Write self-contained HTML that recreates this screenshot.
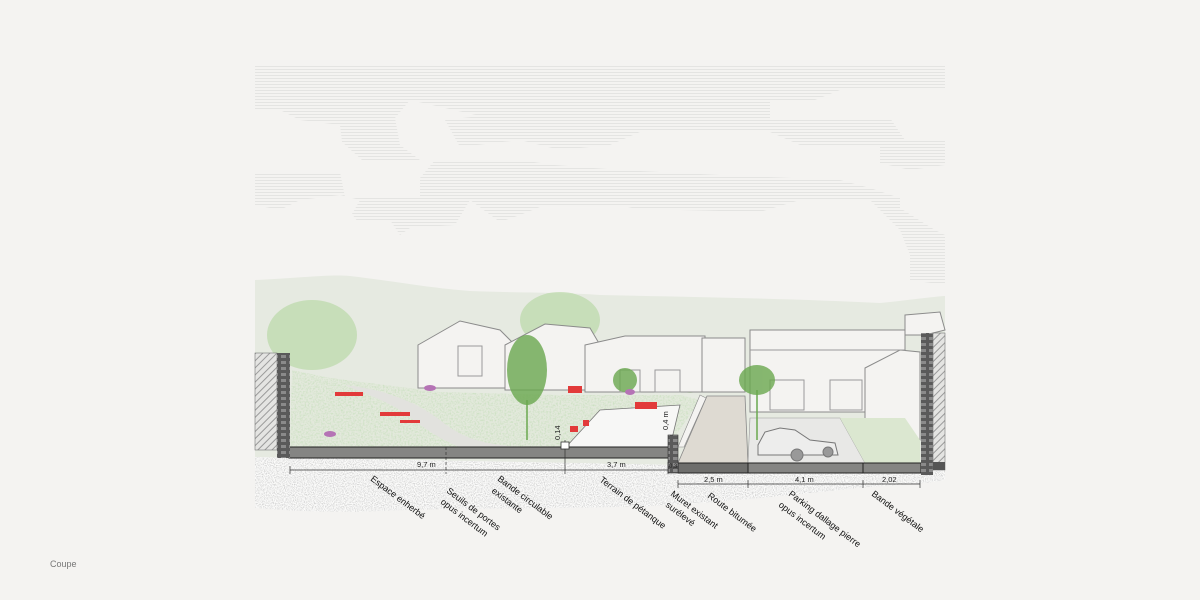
<!DOCTYPE html>
<html><head><meta charset="utf-8"><style>
html,body{margin:0;padding:0;background:#f4f3f1;}
svg{display:block;}
text{font-family:"Liberation Sans",sans-serif;}
</style></head><body>
<svg width="1200" height="600" viewBox="0 0 1200 600" xmlns="http://www.w3.org/2000/svg">
<defs>
<pattern id="sky" width="4" height="3" patternUnits="userSpaceOnUse"><rect width="4" height="1" fill="#e4e4e2"/></pattern>
<pattern id="hatch" width="5" height="5" patternUnits="userSpaceOnUse" patternTransform="rotate(45)"><rect width="5" height="5" fill="#e4e4e2"/><rect width="1" height="5" fill="#9a9a9a"/></pattern>
<pattern id="stone" width="8" height="6" patternUnits="userSpaceOnUse"><rect width="8" height="6" fill="#5a5a5a"/><rect x="1" y="1" width="5" height="3" fill="#8a8a8a"/></pattern>
<filter id="noise"><feTurbulence type="fractalNoise" baseFrequency="0.9" numOctaves="1" seed="3"/><feColorMatrix values="0 0 0 0 0.55 0 0 0 0 0.55 0 0 0 0 0.55 0 0 0 -2.2 1.3"/><feComposite in2="SourceGraphic" operator="in"/></filter>
<filter id="grass"><feTurbulence type="fractalNoise" baseFrequency="0.6" numOctaves="2" seed="7"/><feColorMatrix values="0 0 0 0 0.45 0 0 0 0 0.68 0 0 0 0 0.38 0 0 0 -2 1.2"/><feComposite in2="SourceGraphic" operator="in"/></filter>
</defs>

<g fill="url(#sky)">
<polygon points="255,66 945,66 945,88 845,88 815,100 770,100 770,118 890,118 905,140 945,140 945,165 910,170 880,163 880,145 800,145 770,132 640,132 610,145 560,150 520,140 460,147 445,120 480,116 410,100 395,118 400,145 420,160 362,160 342,142 340,125 300,120 280,110 255,110"/>
<polygon points="255,172 340,172 345,197 420,197 420,178 435,160 520,160 555,165 620,170 720,175 840,180 870,188 900,198 900,208 935,230 945,235 945,285 910,280 910,255 900,230 870,200 800,200 760,212 680,210 640,210 620,205 545,205 520,215 500,222 470,200 455,225 410,228 400,235 390,220 358,222 352,214 360,200 340,195 300,200 280,210 255,205"/>
</g>

<path d="M255,280 C300,278 330,274 350,276 C400,282 430,288 470,291 C520,293 560,292 600,295 C700,297 800,299 880,303 C910,300 930,297 945,296 L945,470 L255,470 Z" fill="#e6eae1"/>

<g fill="#b3d59e" opacity="0.6">
<ellipse cx="312" cy="335" rx="45" ry="35"/>
<ellipse cx="560" cy="320" rx="40" ry="28"/>
<ellipse cx="440" cy="360" rx="20" ry="22"/>
<ellipse cx="690" cy="375" rx="15" ry="18"/>
<ellipse cx="900" cy="390" rx="18" ry="35"/>
</g>

<g fill="#f4f3f1" stroke="#8b8b8b" stroke-width="1">
<polygon points="418,345 460,321 500,330 515,345 515,388 418,388"/>
<polygon points="505,345 545,324 590,328 600,345 600,390 505,390"/>
<polygon points="585,345 625,336 705,336 705,392 585,392"/>
<polygon points="702,338 745,338 745,392 702,392"/>
<polygon points="750,330 905,330 905,412 750,412"/>
<polygon points="865,368 900,350 920,352 920,440 865,440"/>
<polygon points="905,315 940,312 945,330 925,335 905,335"/>
</g>
<g stroke="#9a9a9a" fill="none" stroke-width="1">
<line x1="750" y1="350" x2="905" y2="350"/>
<rect x="458" y="346" width="24" height="30"/>
<rect x="770" y="380" width="34" height="30"/><rect x="830" y="380" width="32" height="30"/>
<rect x="620" y="370" width="20" height="22"/><rect x="655" y="370" width="25" height="22"/>
</g>

<polygon points="290,447 292,370 330,378 440,392 560,395 680,395 700,400 668,447" fill="#e3e9dc"/>
<polygon points="290,447 292,370 330,378 440,392 560,395 680,395 700,400 668,447" fill="#fff" filter="url(#grass)" opacity="0.55"/>
<path d="M345,385 C390,390 420,405 440,420 C460,437 480,444 520,447 L460,447 C440,440 420,425 400,410 C380,398 360,392 345,385 Z" fill="#e2e2de"/>
<polygon points="566,447 600,410 680,405 670,447" fill="#f7f7f6" stroke="#777" stroke-width="0.8"/>
<polygon points="678,463 707,396 745,396 748,463" fill="#dedad2" stroke="#888" stroke-width="0.8"/>
<polygon points="678,447 700,395 706,398 684,447" fill="#f4f3f1" stroke="#888" stroke-width="0.6"/>
<polygon points="748,463 750,418 840,418 865,463" fill="#e8e8e6" stroke="#999" stroke-width="0.6"/>
<polygon points="840,418 905,418 920,440 920,463 865,463" fill="#dbe7d0"/>
<g fill="#ededec" stroke="#777" stroke-width="1">
<path d="M758,445 L765,432 L780,428 L795,430 L810,440 L835,443 L838,455 L758,455 Z"/>
<circle cx="797" cy="455" r="6" fill="#999"/><circle cx="828" cy="452" r="5" fill="#999"/>
</g>

<g fill="#6aa84f" opacity="0.8">
<ellipse cx="527" cy="370" rx="20" ry="35"/>
<ellipse cx="757" cy="380" rx="18" ry="15"/>
<ellipse cx="625" cy="380" rx="12" ry="12"/>
</g>
<g stroke="#6aa84f" stroke-width="1.5"><line x1="527" y1="400" x2="527" y2="440"/><line x1="757" y1="390" x2="757" y2="440"/></g>

<g fill="#e23a3a">
<rect x="335" y="392" width="28" height="4"/><rect x="380" y="412" width="30" height="4"/><rect x="400" y="420" width="20" height="3"/>
<rect x="568" y="386" width="14" height="7"/><rect x="635" y="402" width="22" height="7"/><rect x="570" y="426" width="8" height="6"/><rect x="583" y="420" width="6" height="6"/>
</g>
<g fill="#b573b5"><ellipse cx="430" cy="388" rx="6" ry="3"/><ellipse cx="330" cy="434" rx="6" ry="3"/><ellipse cx="630" cy="392" rx="5" ry="3"/></g>

<path d="M255,457 L945,470 L945,480 C920,485 880,485 840,490 C780,496 700,505 620,507 C540,509 440,508 380,511 C320,513 280,510 255,508 Z" fill="#fbfbfa"/>
<path d="M255,457 L945,470 L945,480 C920,485 880,485 840,490 C780,496 700,505 620,507 C540,509 440,508 380,511 C320,513 280,510 255,508 Z" fill="#fff" filter="url(#noise)"/>

<rect x="289" y="447" width="380" height="11" fill="#858583" stroke="#222" stroke-width="1"/>
<rect x="678" y="463" width="185" height="10" fill="#858583" stroke="#222" stroke-width="1"/>
<rect x="678" y="463" width="70" height="10" fill="#6e6e6c" stroke="#222" stroke-width="1"/>
<rect x="863" y="463" width="58" height="10" fill="#858583" stroke="#222" stroke-width="1"/>
<rect x="668" y="435" width="10" height="38" fill="url(#stone)" stroke="#333" stroke-width="0.6"/>

<rect x="255" y="353" width="22" height="97" fill="url(#hatch)" stroke="#777" stroke-width="0.6"/>
<rect x="277" y="353" width="13" height="105" fill="url(#stone)"/>
<rect x="921" y="333" width="12" height="142" fill="url(#stone)"/>
<rect x="933" y="333" width="12" height="137" fill="url(#hatch)" stroke="#777" stroke-width="0.6"/>
<rect x="933" y="462" width="12" height="8" fill="#555"/>

<g stroke="#333" stroke-width="0.7" fill="none">
<line x1="290" y1="470" x2="668" y2="470"/>
<line x1="678" y1="484" x2="920" y2="484"/>
<line x1="565" y1="440" x2="565" y2="474"/>
<line x1="446" y1="447" x2="446" y2="474" stroke-dasharray="3,2"/>
<line x1="290" y1="466" x2="290" y2="474"/><line x1="668" y1="462" x2="668" y2="474"/>
<line x1="678" y1="480" x2="678" y2="488"/><line x1="748" y1="480" x2="748" y2="488"/><line x1="863" y1="480" x2="863" y2="488"/><line x1="920" y1="480" x2="920" y2="488"/>
</g>
<rect x="561" y="442" width="8" height="7" fill="#fff" stroke="#333" stroke-width="0.8"/>
<g font-size="7.5" fill="#222">
<text x="417" y="467">9,7 m</text>
<text x="607" y="467">3,7 m</text>
<text x="704" y="482">2,5 m</text>
<text x="795" y="482">4,1 m</text>
<text x="882" y="482">2,02</text>
<text x="669" y="468" font-size="6">0,3</text>
<text transform="translate(560,440) rotate(-90)">0,14</text>
<text transform="translate(668,430) rotate(-90)">0,4 m</text>
</g>

<g font-size="9" fill="#111">
<text transform="translate(370,480) rotate(37)">Espace enherbé</text>
<text transform="translate(446,492) rotate(37)">Seuils de portes</text>
<text transform="translate(440,503) rotate(37)">opus incertum</text>
<text transform="translate(497,480) rotate(37)">Bande circulable</text>
<text transform="translate(491,492) rotate(37)">existante</text>
<text transform="translate(599,481) rotate(37)">Terrain de pétanque</text>
<text transform="translate(670,495) rotate(37)">Muret existant</text>
<text transform="translate(665,506) rotate(37)">surélevé</text>
<text transform="translate(707,497) rotate(37)">Route bitumée</text>
<text transform="translate(788,495) rotate(37)">Parking dallage pierre</text>
<text transform="translate(778,506) rotate(37)">opus incertum</text>
<text transform="translate(871,495) rotate(37)">Bande végétale</text>
</g>

<text x="50" y="567" font-size="9" fill="#777">Coupe</text>
</svg>
</body></html>
